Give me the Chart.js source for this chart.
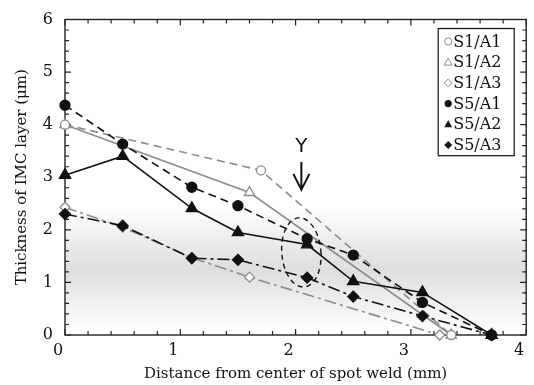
<!DOCTYPE html>
<html>
<head>
<meta charset="utf-8">
<script src="https://cdn.jsdelivr.net/npm/chart.js@4.4.1/dist/chart.umd.min.js"></script>
<style>
  html, body { margin: 0; padding: 0; background: #fff; }
  #wrap { width: 534px; height: 385px; position: relative; }
</style>
</head>
<body>
<div id="wrap"><canvas id="imcChart"></canvas></div>
<script>
// Distance from center of spot weld (mm) and IMC thickness (um)
const distS1A1 = [0, 1.7, 3.35];
const thickS1A1 = [4.0, 3.13, 0];
const distS1A2 = [0, 1.6, 3.35];
const thickS1A2 = [4.0, 2.71, 0];
const distS1A3 = [0, 0.5, 1.1, 1.6, 3.25];
const thickS1A3 = [2.43, 2.05, 1.47, 1.1, 0];
const distS5 = [0, 0.5, 1.1, 1.5, 2.1, 2.5, 3.1, 3.7];
const thickS5A1 = [4.37, 3.63, 2.81, 2.46, 1.83, 1.52, 0.62, 0];
const thickS5A2 = [3.04, 3.40, 2.41, 1.95, 1.72, 1.02, 0.81, 0];
const thickS5A3 = [2.30, 2.08, 1.46, 1.43, 1.09, 0.73, 0.36, 0];

const xTickLabels = [0, 1, 2, 3, 4];
const yTickLabels = [0, 1, 2, 3, 4, 5, 6];

const GRAY = '#8c8c8c';
const BLACK = '#111111';
const SERIF = "'DejaVu Serif', serif";

function pts(xs, ys) {
    return xs.map((v, i) => ({ x: v, y: ys[i] }));
}

function series(label, xs, ys, opts) {
    return Object.assign({
        label: label,
        data: pts(xs, ys),
        showLine: true,
        fill: false,
        borderWidth: 1.6,
        pointBorderWidth: 1.3,
        clip: false
    }, opts);
}

const grayOpen = { borderColor: GRAY, pointBorderColor: GRAY, pointBackgroundColor: '#ffffff', order: 1 };
const blackFill = { borderColor: BLACK, pointBorderColor: BLACK, pointBackgroundColor: BLACK, order: 0 };

const datasets = [
    series('S1/A1', distS1A1, thickS1A1, Object.assign({ pointStyle: 'circle', pointRadius: 4.5, borderDash: [8, 5] }, grayOpen)),
    series('S1/A2', distS1A2, thickS1A2, Object.assign({ pointStyle: 'triangle', pointRadius: 6, borderDash: [] }, grayOpen)),
    series('S1/A3', distS1A3, thickS1A3, Object.assign({ pointStyle: 'rectRot', pointRadius: 5, borderDash: [12, 4, 3, 4] }, grayOpen)),
    series('S5/A1', distS5, thickS5A1, Object.assign({ pointStyle: 'circle', pointRadius: 5, borderDash: [8, 5] }, blackFill)),
    series('S5/A2', distS5, thickS5A2, Object.assign({ pointStyle: 'triangle', pointRadius: 6.5, borderDash: [] }, blackFill)),
    series('S5/A3', distS5, thickS5A3, Object.assign({ pointStyle: 'rectRot', pointRadius: 5.5, borderDash: [12, 4, 3, 4] }, blackFill))
];

// small legend marker
function drawMarker(ctx, style, x, y, r, filled, color) {
    ctx.save();
    ctx.beginPath();
    if (style === 'circle') {
        ctx.arc(x, y, r, 0, Math.PI * 2);
    } else if (style === 'triangle') {
        ctx.moveTo(x, y - r * 1.1);
        ctx.lineTo(x + r * 1.1, y + r * 0.8);
        ctx.lineTo(x - r * 1.1, y + r * 0.8);
    } else {
        ctx.moveTo(x, y - r * 1.1);
        ctx.lineTo(x + r * 1.1, y);
        ctx.lineTo(x, y + r * 1.1);
        ctx.lineTo(x - r * 1.1, y);
    }
    ctx.closePath();
    ctx.lineWidth = 1;
    if (filled) {
        ctx.fillStyle = color;
        ctx.fill();
    } else {
        ctx.fillStyle = '#fff';
        ctx.fill();
        ctx.strokeStyle = color;
        ctx.stroke();
    }
    ctx.restore();
}

const decorPlugin = {
    id: 'decor',
    beforeDatasetsDraw(chart) {
        const { ctx, chartArea: a, scales: { x, y } } = chart;
        ctx.save();
        // soft horizontal shade band
        const g = ctx.createLinearGradient(0, y.getPixelForValue(2.45), 0, y.getPixelForValue(0.05));
        g.addColorStop(0, 'rgba(255,255,255,1)');
        g.addColorStop(0.5, 'rgba(222,222,222,1)');
        g.addColorStop(1, 'rgba(255,255,255,1)');
        ctx.fillStyle = g;
        ctx.fillRect(a.left, y.getPixelForValue(2.45), a.right - a.left, y.getPixelForValue(0.05) - y.getPixelForValue(2.45));

        // frame
        ctx.strokeStyle = '#222';
        ctx.lineWidth = 1.4;
        ctx.strokeRect(a.left, a.top, a.right - a.left, a.bottom - a.top);

        // inward ticks on all four sides
        ctx.lineWidth = 1.2;
        ctx.beginPath();
        for (let i = 0; i <= 20; i++) {
            const v = i * 0.2;
            const px = x.getPixelForValue(v);
            const len = i % 5 === 0 ? 6 : 4;
            ctx.moveTo(px, a.bottom); ctx.lineTo(px, a.bottom - len);
            ctx.moveTo(px, a.top); ctx.lineTo(px, a.top + len);
        }
        for (let i = 0; i <= 30; i++) {
            const v = i * 0.2;
            const py = y.getPixelForValue(v);
            const len = i % 5 === 0 ? 6 : 4;
            ctx.moveTo(a.left, py); ctx.lineTo(a.left + len, py);
            ctx.moveTo(a.right, py); ctx.lineTo(a.right - len, py);
        }
        ctx.stroke();
        ctx.restore();
    },
    afterDatasetsDraw(chart) {
        const { ctx, scales: { x, y } } = chart;
        ctx.save();
        // dashed ellipse around region Y
        const cx = x.getPixelForValue(2.05), cy = y.getPixelForValue(1.57);
        const rx = x.getPixelForValue(2.05 + 0.17) - cx;
        const ry = cy - y.getPixelForValue(1.57 + 0.66);
        ctx.beginPath();
        ctx.ellipse(cx, cy, rx, ry, -0.08, 0, Math.PI * 2);
        ctx.setLineDash([5, 4]);
        ctx.strokeStyle = BLACK;
        ctx.lineWidth = 1.4;
        ctx.stroke();
        ctx.setLineDash([]);

        // arrow and label "Y"
        const ax = x.getPixelForValue(2.05);
        const aTop = y.getPixelForValue(3.29), aTip = y.getPixelForValue(2.76);
        ctx.lineWidth = 2;
        ctx.beginPath();
        ctx.moveTo(ax, aTop); ctx.lineTo(ax, aTip);
        ctx.moveTo(ax - 8, aTip - 16); ctx.lineTo(ax, aTip); ctx.lineTo(ax + 8, aTip - 16);
        ctx.stroke();
        ctx.fillStyle = BLACK;
        ctx.font = "20px 'DejaVu Sans', sans-serif";
        ctx.textAlign = 'center';
        ctx.textBaseline = 'middle';
        ctx.fillText('Y', ax, y.getPixelForValue(3.57));
        ctx.restore();
    },
    afterDraw(chart) {
        const { ctx, chartArea: a } = chart;
        const boxW = 76, rowH = 20.7;
        const left = a.right - 12 - boxW, top = a.top + 9;
        const items = chart.data.datasets;
        ctx.save();
        ctx.fillStyle = '#fff';
        ctx.fillRect(left, top, boxW, rowH * items.length + 3);
        ctx.strokeStyle = '#111';
        ctx.lineWidth = 1.2;
        ctx.strokeRect(left, top, boxW, rowH * items.length + 3);
        ctx.font = '16px ' + SERIF;
        ctx.textAlign = 'left';
        ctx.textBaseline = 'middle';
        items.forEach((ds, i) => {
            const cy = top + 13 + i * rowH;
            const filled = ds.pointBackgroundColor !== '#ffffff';
            drawMarker(ctx, ds.pointStyle, left + 10, cy, 3.6, filled, ds.pointBorderColor);
            ctx.fillStyle = BLACK;
            ctx.fillText(ds.label, left + 15, cy + 1);
        });
        ctx.restore();
    }
};

new Chart(document.getElementById('imcChart'), {
    type: 'scatter',
    data: { datasets: datasets },
    options: {
        responsive: true,
        maintainAspectRatio: false,
        animation: false,
        layout: { padding: { top: 19.5, right: 4.2, left: 0, bottom: 0 } },
        plugins: {
            legend: { display: false },
            tooltip: { enabled: false }
        },
        scales: {
            x: {
                type: 'linear',
                min: 0,
                max: 4,
                grid: { display: false, drawTicks: false },
                border: { display: false },
                afterBuildTicks: (s) => { s.ticks = xTickLabels.map(v => ({ value: v })); },
                ticks: {
                    padding: 6,
                    labelOffset: -7,
                    maxRotation: 0,
                    color: BLACK,
                    font: { family: SERIF, size: 16 }
                },
                title: {
                    display: true,
                    text: 'Distance from center of spot weld (mm)',
                    color: BLACK,
                    font: { family: SERIF, size: 15 },
                    padding: { top: 0, bottom: 2 }
                },
                afterFit: (s) => { s.height = 50; s.paddingLeft = 0; s.paddingRight = 0; }
            },
            y: {
                type: 'linear',
                min: 0,
                max: 6,
                grid: { display: false, drawTicks: false },
                border: { display: false },
                afterBuildTicks: (s) => { s.ticks = yTickLabels.map(v => ({ value: v })); },
                ticks: {
                    padding: 12,
                    color: BLACK,
                    font: { family: SERIF, size: 16 }
                },
                title: {
                    display: true,
                    text: 'Thickness of IMC layer (\u03bcm)',
                    color: BLACK,
                    font: { family: SERIF, size: 15 },
                    padding: { top: 13, bottom: 0 }
                },
                afterFit: (s) => { s.width = 65; s.paddingTop = 0; s.paddingBottom = 0; }
            }
        }
    },
    plugins: [decorPlugin]
});
</script>
</body>
</html>
